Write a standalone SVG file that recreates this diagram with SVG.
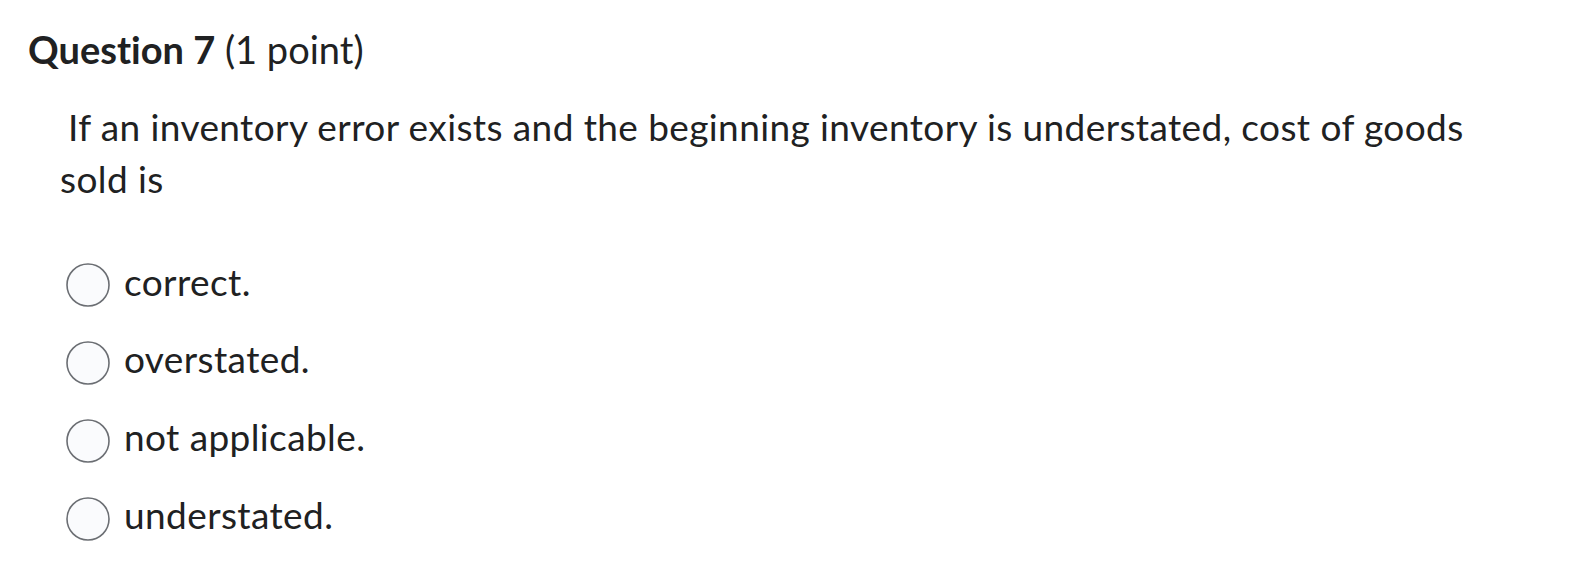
<svg xmlns="http://www.w3.org/2000/svg" width="1572" height="574" viewBox="0 0 1572 574">
<style>
text{font-family:Lato,"Liberation Sans",sans-serif;fill:#202122;font-variant-ligatures:none}
.q{font-size:37px;letter-spacing:0.4px}
.r{fill:#fafbfd;stroke:#6b6e73;stroke-width:1.6}
</style>
<rect width="1572" height="574" fill="#fff"/>
<text x="28" y="64" font-size="38"><tspan font-weight="bold">Question 7</tspan> (1 point)</text>
<text class="q" x="68" y="141">If an inventory error exists and the beginning inventory is understated, cost of goods</text>
<text class="q" x="60" y="193">sold is</text>
<g id="opt1"><circle class="r" cx="88" cy="285" r="21"/><text class="q" x="124" y="296">correct.</text></g>
<g id="opt2"><circle class="r" cx="88" cy="363" r="21"/><text class="q" x="124" y="373">overstated.</text></g>
<g id="opt3"><circle class="r" cx="88" cy="441" r="21"/><text class="q" x="124" y="451">not applicable.</text></g>
<g id="opt4"><circle class="r" cx="88" cy="519" r="21"/><text class="q" x="124" y="529">understated.</text></g>
</svg>
